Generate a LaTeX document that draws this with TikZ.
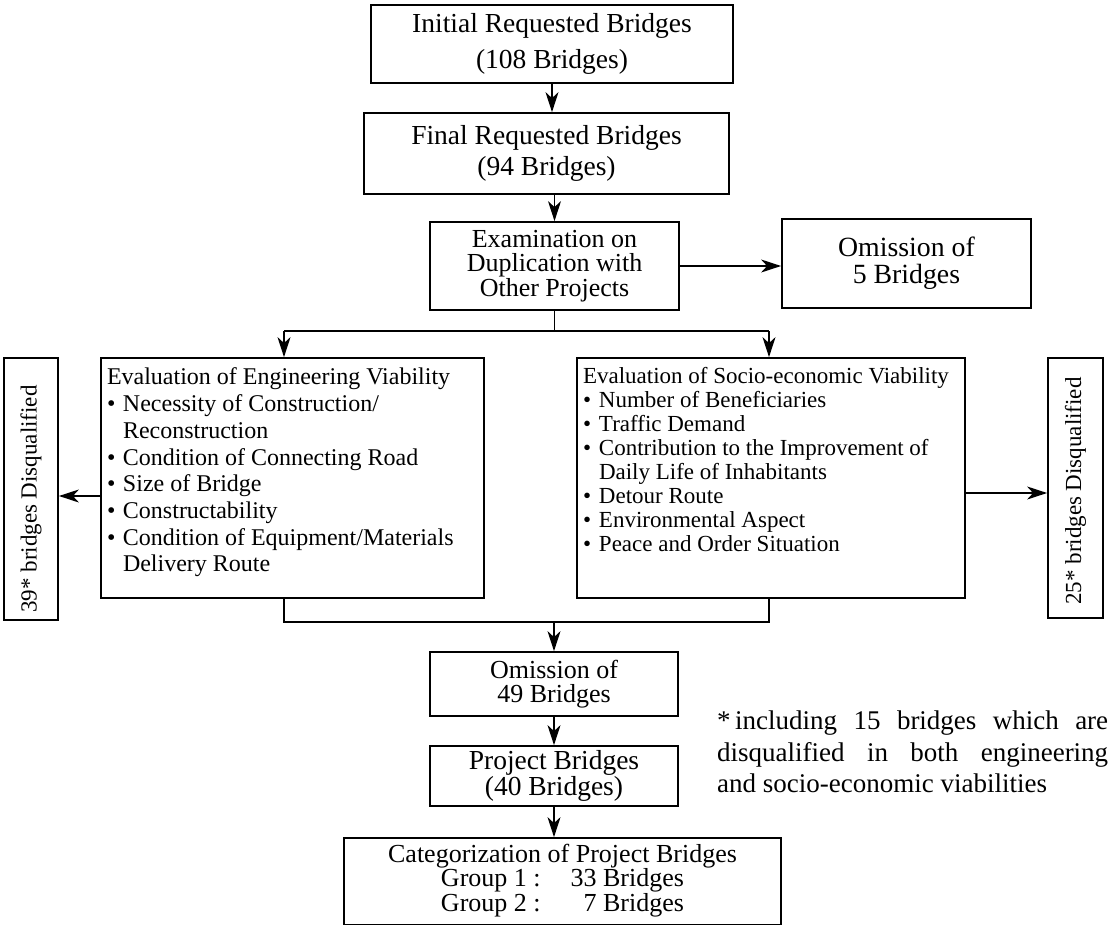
\documentclass[tikz,border=0pt]{standalone}
\usepackage{fontspec}
\setmainfont{Liberation Serif}
\usepackage{graphicx}
\usetikzlibrary{arrows.meta}

\newcommand{\fs}[2]{\fontsize{#1}{#2}\selectfont}
\newcommand{\bl}[1]{\par\noindent\hangindent=16pt\hangafter=1\makebox[16pt][l]{\textbullet}#1}
\newcommand{\listpage}[3]{\begin{minipage}[c][#2][t]{#1}#3\end{minipage}}

\begin{document}
\begin{tikzpicture}[x=1pt,y=-1pt,
	box/.style={draw,line width=1.8pt,inner sep=0pt},
	tbox/.style={box,align=center},
	line/.style={line width=1.3pt},
	arr/.style={line width=1.3pt,-{Stealth[length=20pt,width=13pt,inset=6pt]}}]
	\useasboundingbox (0,0) rectangle (1114,926);
	%%%%%%%%%%%%%%%%%%%%%%%%%%%%%%%%
	\node[tbox,minimum width=362,minimum height=78,font=\fs{27.5}{35.5}] (init) at (552,44) {Initial Requested Bridges\\(108 Bridges)};
	\node[tbox,minimum width=365,minimum height=81,font=\fs{27.5}{31.7}] (final) at (546.5,153.5) {Final Requested Bridges\\(94 Bridges)};
	\node[tbox,minimum width=249,minimum height=88,font=\fs{26}{24.5}] (exam) at (554.5,266) {Examination on\\Duplication with\\Other Projects};
	\node[tbox,minimum width=249,minimum height=89,font=\fs{27.8}{27}] (omit5) at (906.5,263.5) {Omission of\\5 Bridges};
	%%%%%%%%%%%%%%%%%%%%%%%%%%%%%%%%
	\node[box,minimum width=383,minimum height=240] (eng) at (292.5,478) {\listpage{371pt}{220pt}{\fs{24}{26.7}Evaluation of Engineering Viability
		\bl{Necessity of Construction/\\Reconstruction}
		\bl{Condition of Connecting Road}
		\bl{Size of Bridge}
		\bl{Constructability}
		\bl{Condition of Equipment/Materials\\Delivery Route}}};
	\node[box,minimum width=388,minimum height=240] (socio) at (771,478) {\listpage{376pt}{222pt}{\fs{23}{24}Evaluation of Socio-economic Viability
		\bl{Number of Beneficiaries}
		\bl{Traffic Demand}
		\bl{Contribution to the Improvement of\\Daily Life of Inhabitants}
		\bl{Detour Route}
		\bl{Environmental Aspect}
		\bl{Peace and Order Situation}}};
	\node[box,minimum width=54,minimum height=262,font=\fs{23}{26}] (disq39) at (31,489) {\rotatebox{90}{39* bridges Disqualified\hspace*{20pt}}};
	\node[box,minimum width=55,minimum height=260,font=\fs{23}{26}] (disq25) at (1075.5,488) {\rotatebox{90}{25* bridges Disqualified\hspace*{6pt}}};
	%%%%%%%%%%%%%%%%%%%%%%%%%%%%%%%%
	\node[tbox,minimum width=248,minimum height=64,font=\fs{26}{24}] (omit49) at (554,684) {Omission of\\49 Bridges};
	\node[tbox,minimum width=248,minimum height=60,font=\fs{27.5}{26}] (proj) at (554,776) {Project Bridges\\(40 Bridges)};
	\node[box,minimum width=437,minimum height=86.5,font=\fs{26}{23}] (cat) at (562.5,881.25) {\begin{tabular}{@{}c@{}}Categorization of Project Bridges\\
		\begin{tabular}{@{}l@{\hspace{30pt}}r@{}}Group 1 : & 33 Bridges\\Group 2 : & 7 Bridges\end{tabular}\end{tabular}};
	\node[anchor=north west,inner sep=0pt,text width=391pt,align=justify,font=\fs{27}{31.5}] (note) at (717,711) {\noindent\hangindent=18pt\hangafter=1\makebox[18pt][l]{*}including 15 bridges which are\linebreak disqualified in both engineering\linebreak and socio-economic viabilities};
	%%%%%%%%%%%%%%%%%%%%%%%%%%%%%%%%
	\coordinate (jl) at (284,331);
	\coordinate (jr) at (769,331);
	\coordinate (kl) at (284,622);
	\coordinate (kr) at (769,622);
	\draw[arr] (init.south) -- (init.south |- final.north);
	\draw[arr] (exam.north |- final.south) -- (exam.north);
	\draw[arr] (exam.east) -- (omit5.west |- exam.east);
	\draw[line] (exam.south) -- (exam.south |- jl);
	\draw[line] (jl) -- (jr);
	\draw[arr] (jl) -- (jl |- eng.north);
	\draw[arr] (jr) -- (jr |- socio.north);
	\draw[arr] (eng.west |- 0,496) -- (disq39.east |- 0,496);
	\draw[arr] (socio.east |- 0,493) -- (disq25.west |- 0,493);
	\draw[line] (kl |- eng.south) -- (kl) -- (kr) -- (kr |- socio.south);
	\draw[arr] (omit49.north |- kl) -- (omit49.north);
	\draw[arr] (omit49.south) -- (proj.north);
	\draw[arr] (proj.south) -- (proj.south |- cat.north);
\end{tikzpicture}
\end{document}
